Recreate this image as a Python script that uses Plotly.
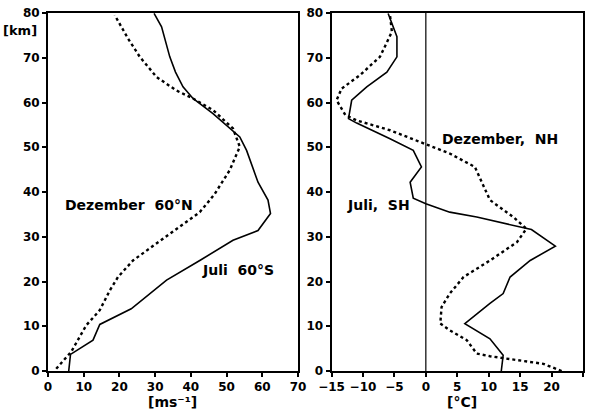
import plotly.graph_objects as go

# Zonal wind profiles at 60° latitude (m/s vs. height in km)
juli_60s_wind = [5.8, 6.3, 12.6, 14.5, 23.3, 33.2, 42.5, 51.8, 58.8, 62.3, 61.6, 58.8, 55.6, 53.7,
                 46.2, 40.6, 37.8, 35.7, 34.1, 31.8, 29.7]
juli_60s_height = [0, 3.7, 6.9, 10.4, 13.9, 20.3, 24.7, 29.2, 31.4, 35.2, 38.2, 42.2, 49.3, 52.3,
                   57.5, 60.9, 63.5, 66.8, 70.2, 76.9, 79.9]

dez_60n_wind = [2.3, 6.5, 10.7, 14.5, 17.3, 19.6, 23.8, 30.4, 38.8, 42.5, 45.3, 46.7, 50.9, 53.7,
                51.8, 46.2, 40.6, 35.9, 30.4, 25.7, 22.4, 18.7]
dez_60n_height = [0.5, 4.3, 10.2, 13.6, 18.0, 21.0, 24.7, 28.5, 33.3, 35.5, 38.2, 39.6, 44.9, 50.1,
                  54.2, 58.3, 60.9, 62.7, 65.7, 70.2, 74.3, 79.5]

# Temperature difference profiles (°C vs. height in km)
juli_sh_temp = [12.0, 12.3, 10.2, 6.2, 10.2, 12.3, 13.4, 16.6, 20.6, 16.8, 8.1, 3.8, 0.0, -2.0,
                -2.5, -0.7, -2.0, -5.7, -11.0, -12.3, -11.8, -9.4, -6.2, -4.6, -4.6, -5.2, -6.0]
juli_sh_height = [0, 3.5, 7.2, 10.6, 15.1, 17.3, 21.0, 24.7, 27.9, 31.6, 34.4, 35.5, 37.4, 38.6,
                  42.2, 45.6, 49.3, 51.9, 55.4, 56.4, 60.5, 63.5, 66.8, 70.2, 74.7, 76.9, 79.9]

dez_nh_temp = [21.6, 18.7, 10.2, 8.1, 6.5, 3.8, 2.3, 2.5, 3.8, 6.0, 10.2, 14.5, 16.0, 13.9, 10.2,
               7.8, 3.8, 0.0, -5.7, -11.0, -12.8, -14.2, -13.4, -10.5, -7.3, -5.4, -5.7]
dez_nh_height = [0, 1.6, 3.3, 3.9, 6.9, 9.1, 10.6, 14.3, 17.3, 21.0, 24.7, 28.8, 31.8, 34.4, 38.2,
                 45.6, 48.6, 50.7, 53.8, 56.0, 57.2, 60.5, 63.1, 66.1, 70.2, 75.8, 79.5]

wind_ticks = [0, 10, 20, 30, 40, 50, 60, 70]
temp_ticks = [-15, -10, -5, 0, 5, 10, 15, 20, 25]
height_ticks = [0, 10, 20, 30, 40, 50, 60, 70, 80]

FONT = "DejaVu Sans"
BLACK = "black"

fig = go.Figure()

fig.add_trace(go.Scatter(x=juli_60s_wind, y=juli_60s_height, mode="lines",
                         line=dict(color=BLACK, width=1.6), xaxis="x", yaxis="y"))
fig.add_trace(go.Scatter(x=dez_60n_wind, y=dez_60n_height, mode="lines",
                         line=dict(color=BLACK, width=2.4, dash="dot"), xaxis="x", yaxis="y"))

# zero line in the temperature panel
fig.add_trace(go.Scatter(x=[0, 0], y=[0, 80], mode="lines",
                         line=dict(color=BLACK, width=1.2), xaxis="x2", yaxis="y2"))
fig.add_trace(go.Scatter(x=juli_sh_temp, y=juli_sh_height, mode="lines",
                         line=dict(color=BLACK, width=1.6), xaxis="x2", yaxis="y2"))
fig.add_trace(go.Scatter(x=dez_nh_temp, y=dez_nh_height, mode="lines",
                         line=dict(color=BLACK, width=2.4, dash="dot"), xaxis="x2", yaxis="y2"))

axis_common = dict(showgrid=False, zeroline=False, showline=True, mirror=True,
                   linecolor=BLACK, linewidth=2, ticks="outside", ticklen=4, tickwidth=2,
                   tickcolor=BLACK, automargin=False,
                   tickfont=dict(family=FONT, size=12, color=BLACK, weight="bold"))

fig.update_layout(
    width=591, height=411,
    margin=dict(l=48, r=8, t=13, b=40),
    paper_bgcolor="white", plot_bgcolor="white",
    showlegend=False,
    xaxis=dict(domain=[0, 0.4673], range=[0, 70], tickvals=wind_ticks, **axis_common),
    yaxis=dict(domain=[0, 1], range=[0, 80], tickvals=height_ticks, anchor="x", **axis_common),
    xaxis2=dict(domain=[0.530, 1.0], range=[-15, 25], tickvals=temp_ticks, anchor="y2",
                **axis_common),
    yaxis2=dict(domain=[0, 1], range=[0, 80], tickvals=height_ticks, anchor="x2", **axis_common),
)

ann_font = dict(family=FONT, size=14, color=BLACK, weight="bold")
unit_font = dict(family=FONT, size=14, color=BLACK, weight="bold")
annotations = [
    dict(text="Dezember  60°N", x=4.1, y=37.0, xref="x", yref="y", xanchor="left",
         yanchor="middle", font=ann_font),
    dict(text="Juli  60°S", x=42.5, y=22.5, xref="x", yref="y", xanchor="left",
         yanchor="middle", font=ann_font),
    dict(text="Dezember,  NH", x=2.3, y=51.9, xref="x2", yref="y2", xanchor="left",
         yanchor="middle", font=ann_font),
    dict(text="Juli,  SH", x=-12.9, y=37.2, xref="x2", yref="y2", xanchor="left",
         yanchor="middle", font=ann_font),
    dict(text="[km]", x=-0.0523, y=0.9525, xref="paper", yref="paper", xanchor="center",
         yanchor="middle", font=dict(family=FONT, size=13, color=BLACK, weight="bold")),
    dict(text="[ms⁻¹]", x=0.2336, y=-0.058, xref="paper", yref="paper",
         xanchor="center", yanchor="top", font=unit_font),
    dict(text="[°C]", x=0.7738, y=-0.058, xref="paper", yref="paper", xanchor="center",
         yanchor="top", font=unit_font),
]
for a in annotations:
    a.update(showarrow=False)
fig.update_layout(annotations=annotations)

fig.write_html("out.html")
